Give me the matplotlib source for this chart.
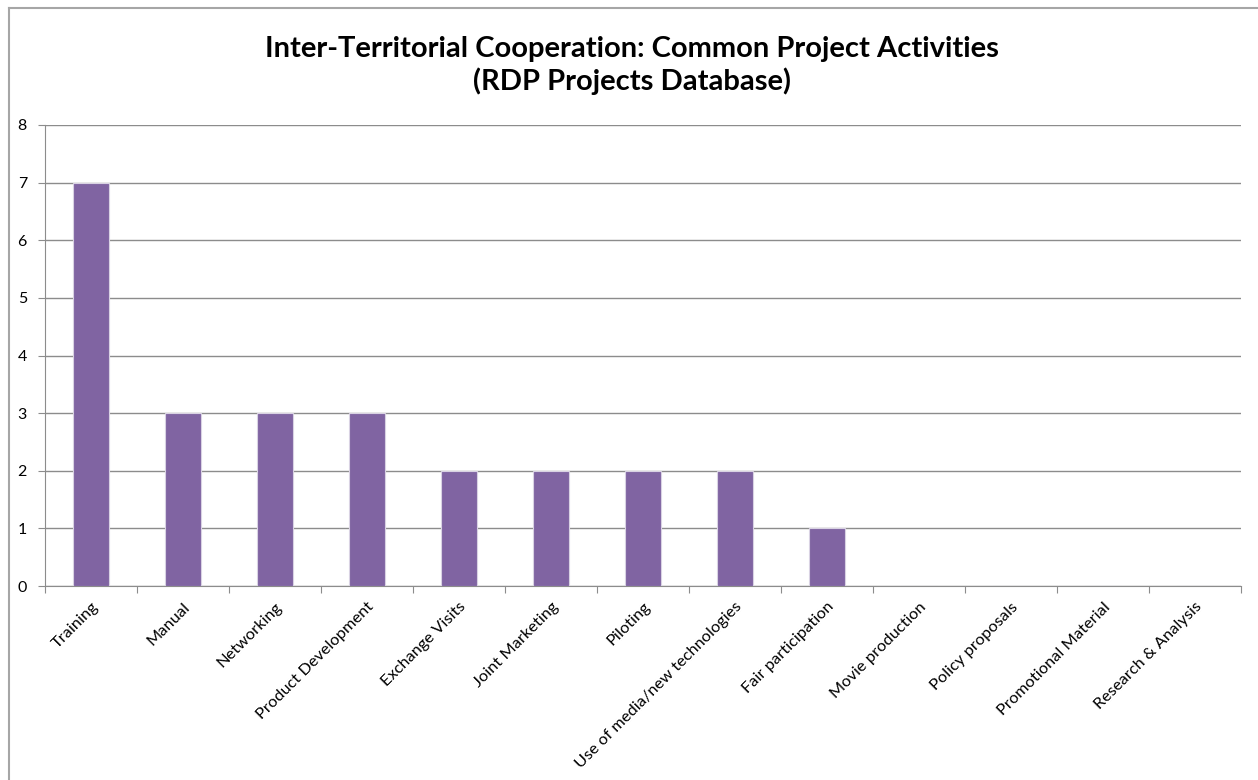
import numpy as np
import matplotlib.pyplot as plt
from matplotlib.lines import Line2D

##################
# Data
##################

activities = ['Training', 'Manual', 'Networking', 'Product Development', 'Exchange Visits',
              'Joint Marketing', 'Piloting', 'Use of media/new technologies',
              'Fair participation', 'Movie production', 'Policy proposals',
              'Promotional Material', 'Research & Analysis']
counts = [7, 3, 3, 3, 2, 2, 2, 2, 1, 0, 0, 0, 0]

title = 'Inter-Territorial Cooperation: Common Project Activities\n(RDP Projects Database)'

bar_color = '#8064A2'
grid_color = '#8c8c8c'

##################
# Figure
##################

plt.rcParams['font.family'] = ['Lato', 'DejaVu Sans']

fig = plt.figure(figsize=(12.58, 7.8), dpi=100, facecolor='white')
ax = fig.add_axes([45 / 1258, 1 - 586 / 780, (1241 - 45) / 1258, (586 - 125) / 780])

x = np.arange(len(activities))
ax.bar(x, counts, width=0.39, color=bar_color, edgecolor='#d9d2e3', linewidth=0.8, zorder=3)

ax.set_xlim(-0.5, len(activities) - 0.5)
ax.set_ylim(0, 8)
ax.set_yticks(range(0, 9))
ax.yaxis.grid(True, color=grid_color, linewidth=1.0, zorder=0)

# category boundaries get the tick marks, labels sit at centres
ax.set_xticks(np.arange(-0.5, len(activities)), minor=False)
ax.set_xticklabels([])
ax.set_xticks(x, minor=True)
ax.set_xticklabels(activities, minor=True, rotation=45, ha='right',
                   rotation_mode='anchor', fontsize=11.8)
ax.tick_params(axis='x', which='minor', length=0, pad=10)
ax.tick_params(axis='x', which='major', length=5, color=grid_color, direction='out')
ax.tick_params(axis='y', length=5, color=grid_color, labelsize=11.5, pad=8)

for side in ['top', 'right']:
    ax.spines[side].set_visible(False)
ax.spines['left'].set_color(grid_color)
ax.spines['bottom'].set_color(grid_color)

fig.text(0.502, 0.916, title, ha='center', va='center', fontsize=21,
         fontweight='bold', linespacing=1.22)

# chart frame: only the top and left edges fall inside the picture
frame_x = 8.5 / 1258
frame_y = 1 - 7.5 / 780
fig.lines.append(Line2D([frame_x, 1], [frame_y, frame_y], transform=fig.transFigure,
                        color='#a6a6a6', linewidth=1.5))
fig.lines.append(Line2D([frame_x, frame_x], [0, frame_y], transform=fig.transFigure,
                        color='#a6a6a6', linewidth=1.5))

fig.savefig('out.png', dpi=100, facecolor='white')
